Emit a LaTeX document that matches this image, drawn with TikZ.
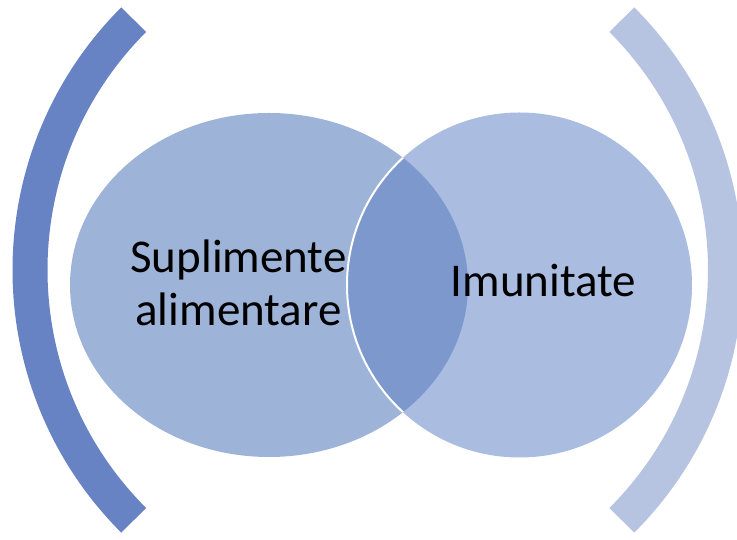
\documentclass[tikz,border=0pt]{standalone}
\usepackage{fontspec}
\setmainfont{Carlito}
\definecolor{leftfill}{RGB}{158,179,216}
\definecolor{rightfill}{RGB}{170,189,225}
\definecolor{overlapfill}{RGB}{124,152,205}
\definecolor{leftarc}{RGB}{104,131,196}
\definecolor{rightarc}{RGB}{182,195,225}
\tikzset{
	bracket/.style={line width=35pt, line cap=butt},
	vennlabel/.style={font=\fontsize{47}{53}\selectfont, align=center, inner sep=0pt}
}

\begin{document}
\begin{tikzpicture}[x=1pt, y=1pt]
	\useasboundingbox (0,0) rectangle (737,540);
	\clip (0,0) rectangle (737,540);
	% outer brackets
	\draw[bracket, leftarc] (384,270) ++(135:354) arc[start angle=135, end angle=225, radius=354];
	\draw[bracket, rightarc] (371.5,270) ++(45:354) arc[start angle=45, end angle=-45, radius=354];
	% the two sets
	\fill[leftfill] (269,255) ellipse [x radius=199, y radius=172];
	\fill[rightfill] (519.5,255) circle (172.5);
	\begin{scope}
		\clip (269,255) ellipse [x radius=199, y radius=172];
		\fill[overlapfill] (519.5,255) circle (172.5);
		\draw[white, line width=2pt] (519.5,255) circle (172.5);
	\end{scope}
	% labels
	\node[vennlabel] (supl) at (238.5,257.5) {Suplimente\\alimentare};
	\node[vennlabel, anchor=base] (imun) at (543.5,243) {Imunitate};
\end{tikzpicture}
\end{document}
